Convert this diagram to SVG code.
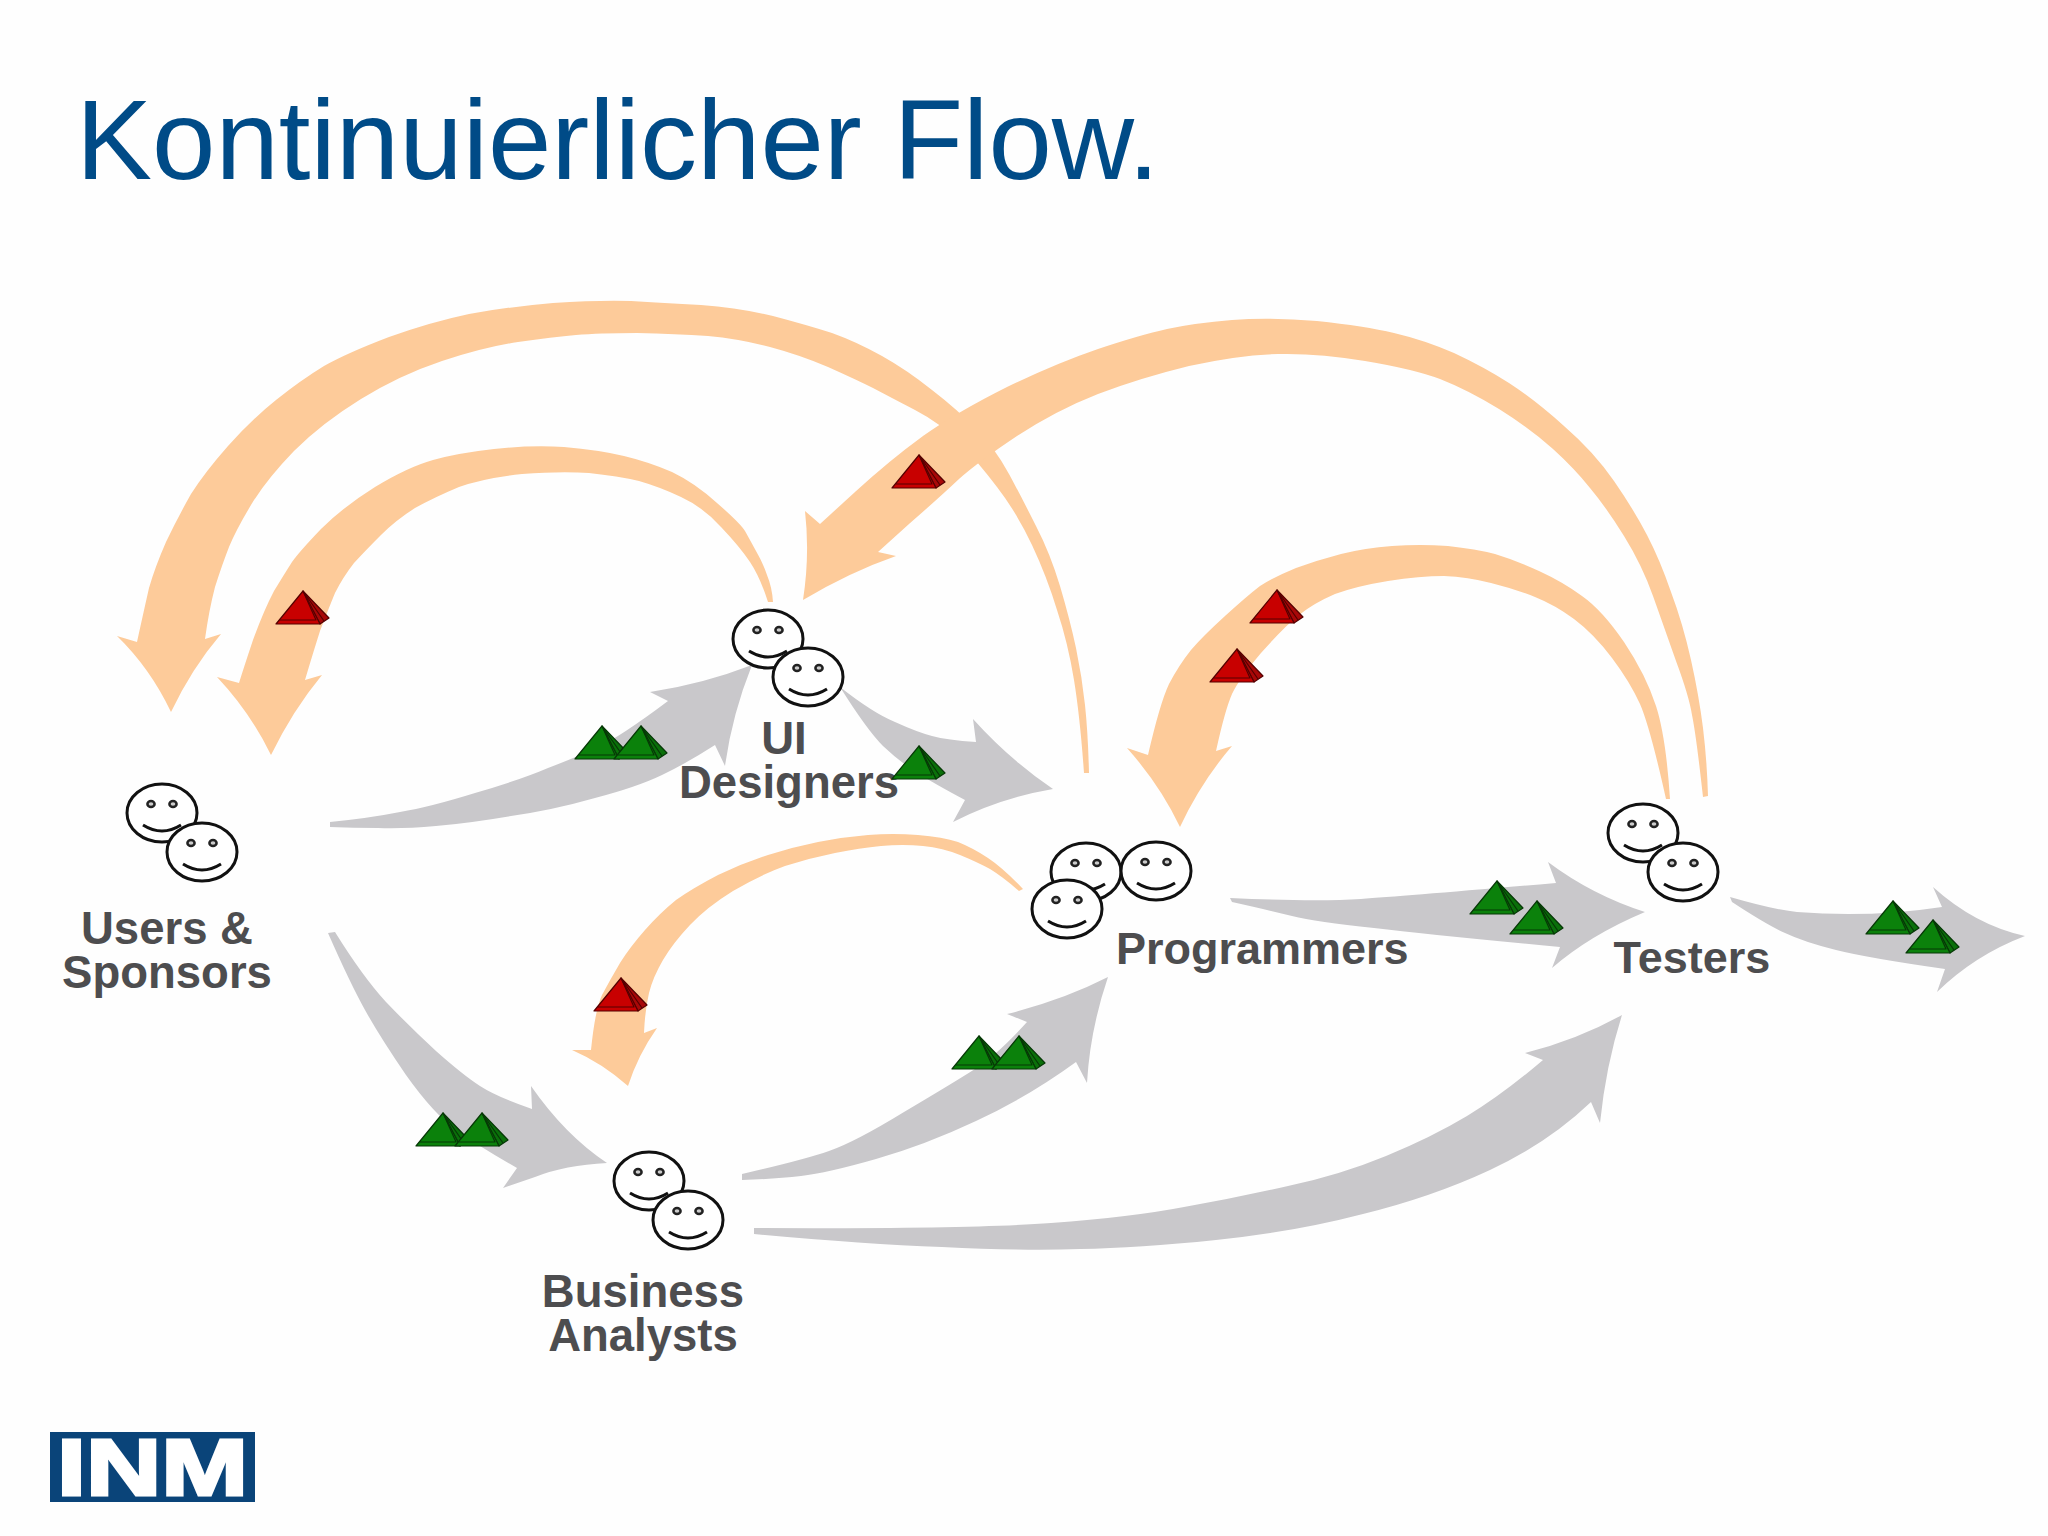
<svg xmlns="http://www.w3.org/2000/svg" width="2048" height="1536" viewBox="0 0 2048 1536">
<style>
.o{fill:#fdcb9a}
.g{fill:#c9c8cb}
.lb{font-family:"Liberation Sans",Arial,sans-serif;font-weight:bold;font-size:45.5px;fill:#4d4d4f;text-anchor:middle}
.f{fill:#fff;stroke:#111;stroke-width:3}
.e{fill:#ccc;stroke:#222;stroke-width:2.5}
.s{fill:none;stroke:#111;stroke-width:3}
</style>
<defs>
<g id="face"><ellipse class="f" rx="35" ry="29"/><ellipse class="e" cx="-11" cy="-9" rx="3.6" ry="3"/><ellipse class="e" cx="11" cy="-9" rx="3.6" ry="3"/><path class="s" d="M-19 12Q0 24 19 12"/></g>
<g id="pr" stroke="#500" stroke-width="1.2" stroke-linejoin="round"><path fill="#a80808" d="M0 0L26 27L17 33Z"/><path fill="#c80000" d="M0 0L-27 33H17Z"/><path fill="none" d="M0 0L13 29H-23M0 0L21 30"/></g>
<g id="pg" stroke="#063806" stroke-width="1.2" stroke-linejoin="round"><path fill="#0a700a" d="M0 0L26 27L17 33Z"/><path fill="#0b810b" d="M0 0L-27 33H17Z"/><path fill="none" d="M0 0L13 29H-23M0 0L21 30"/></g>
</defs>
<rect width="2048" height="1536" fill="#fefefe"/>
<text x="76" y="179" font-family="'Liberation Sans',Arial,sans-serif" font-size="114" fill="#004b87">Kontinuierlicher Flow.</text>
<g id="connectors">
<path class="o" d="M1089 773Q1088 733 1085 705Q1082 677 1076 648Q1070 620 1060 586Q1050 553 1036 526Q1023 500 1009 474Q995 448 976 429Q958 410 932 390Q907 370 882 356Q857 342 832 333Q807 325 773 316Q740 308 701 305Q663 303 631 301Q599 300 553 303Q507 307 469 314Q431 322 389 337Q347 353 324 366Q301 380 276 400Q251 420 228 446Q205 472 191 494Q178 517 166 542Q155 567 149 588Q144 610 137 642L117 636Q150 668 171 712Q192 668 221 634L205 639Q209 610 215 587Q222 565 229 547Q236 530 251 505Q266 480 294 451Q322 423 361 399Q400 375 442 361Q484 347 518 342Q553 337 576 335Q599 333 637 333Q676 334 708 336Q740 339 770 347Q800 355 828 367Q857 380 873 388Q890 397 915 410Q940 423 959 442Q978 462 997 487Q1017 513 1032 545Q1047 577 1057 610Q1068 643 1074 680Q1080 717 1084 773Z"/>
<path class="o" d="M773 602Q772 587 767 575Q763 563 756 551Q750 540 745 531Q740 523 717 503Q695 483 672 472Q649 462 624 456Q599 450 564 447Q530 445 494 449Q458 453 433 460Q408 467 375 487Q343 507 321 529Q299 552 292 562Q285 573 274 591Q264 610 253 640Q243 670 239 683L217 677Q250 712 271 755Q293 710 322 675L305 680Q313 653 320 631Q328 610 335 593Q343 577 354 563Q366 550 381 535Q396 520 415 508Q435 497 459 487Q484 478 522 474Q561 471 589 473Q618 476 639 481Q660 487 681 497Q703 507 721 527Q740 547 750 562Q760 577 768 602Z"/>
<path class="o" d="M1708 796Q1707 761 1703 728Q1699 696 1691 660Q1683 624 1671 592Q1660 560 1647 535Q1634 510 1614 481Q1594 452 1564 426Q1535 400 1509 383Q1484 367 1454 353Q1424 340 1394 333Q1365 326 1317 321Q1270 317 1232 320Q1195 323 1167 329Q1140 335 1098 349Q1057 363 1007 387Q957 412 923 436Q890 460 855 492L820 524L805 511Q810 555 803 600Q850 572 896 556L878 552L909 524Q940 497 959 479Q978 462 1017 436Q1057 410 1098 394Q1140 378 1189 366Q1239 355 1278 354Q1318 353 1365 361Q1413 369 1440 379Q1468 390 1499 409Q1531 429 1553 449Q1575 469 1590 488Q1606 507 1624 536Q1642 565 1653 596Q1664 627 1676 661Q1689 696 1692 715Q1696 734 1703 797Z"/>
<path class="o" d="M1670 799Q1666 737 1656 706Q1646 675 1624 642Q1602 610 1582 596Q1563 582 1539 571Q1515 560 1495 554Q1476 549 1448 546Q1420 544 1392 546Q1365 548 1341 554Q1318 560 1296 568Q1274 577 1260 586Q1247 596 1225 616Q1203 636 1191 650Q1179 665 1169 684Q1160 703 1148 755L1127 748Q1160 785 1180 827Q1201 782 1232 746L1216 751Q1225 710 1232 694Q1239 679 1261 653Q1284 627 1299 615Q1314 603 1335 594Q1357 586 1388 581Q1420 576 1444 576Q1468 577 1491 583Q1515 589 1535 597Q1555 605 1574 619Q1594 634 1612 658Q1630 682 1640 704Q1650 727 1666 799Z"/>
<path class="o" d="M1023 889Q1003 868 988 858Q973 848 958 842Q943 837 918 835Q893 833 868 835Q843 837 818 842Q793 847 768 855Q743 863 718 875Q693 888 676 900Q660 913 645 930Q630 947 620 963Q610 980 602 995Q595 1010 591 1050L572 1050Q602 1063 628 1086Q638 1055 657 1028L644 1033Q645 1010 649 993Q653 977 663 960Q673 943 690 925Q707 907 733 891Q760 875 785 866Q810 858 835 853Q860 848 881 846Q903 844 923 846Q943 848 960 855Q977 862 990 869Q1003 877 1019 891Z"/>
<path class="g" d="M330 822Q370 818 400 812Q430 807 475 793Q520 780 548 768Q577 757 598 747Q620 737 668 701L650 692Q703 684 752 665Q732 715 725 766L715 745Q687 763 662 775Q637 787 595 798Q553 810 511 816Q470 823 436 826Q403 829 378 828Q353 828 330 827Z"/>
<path class="g" d="M840 687Q873 713 895 722Q917 732 932 736Q947 740 976 742L973 719Q1010 760 1053 789Q1000 798 953 822L965 800Q933 783 916 772Q900 762 883 746Q867 730 840 687Z"/>
<path class="g" d="M335 932Q363 977 386 1002Q410 1027 436 1051Q463 1075 480 1086Q497 1097 532 1109L531 1086Q565 1135 607 1163Q565 1165 535 1177L503 1188L517 1168Q480 1147 456 1130Q433 1113 406 1075Q380 1037 365 1010Q350 983 328 933Z"/>
<path class="g" d="M742 1174Q803 1160 829 1151Q855 1142 904 1112Q953 1083 975 1069Q997 1055 1027 1022L1007 1014Q1063 1000 1108 977Q1090 1030 1087 1083L1076 1062Q1028 1097 976 1121Q925 1145 876 1159Q827 1173 801 1176Q775 1179 742 1180Z"/>
<path class="g" d="M754 1228Q971 1229 1051 1223Q1132 1217 1184 1207Q1236 1198 1288 1186Q1340 1175 1386 1156Q1432 1137 1467 1116Q1502 1095 1543 1060L1525 1053Q1577 1040 1622 1015Q1606 1065 1600 1123L1591 1102Q1548 1143 1490 1170Q1432 1197 1363 1214Q1294 1232 1216 1240Q1138 1248 1080 1249Q1023 1251 942 1247Q861 1244 754 1234Z"/>
<path class="g" d="M1230 898Q1316 902 1361 899Q1406 896 1556 883L1548 862Q1592 895 1645 912Q1590 935 1552 968L1560 947Q1432 935 1374 928Q1316 922 1292 916Q1268 910 1232 902Z"/>
<path class="g" d="M1730 897Q1775 910 1797 912Q1870 918 1942 907L1933 887Q1975 925 2025 936Q1975 955 1937 992L1945 969Q1868 958 1836 950Q1804 942 1785 933Q1767 925 1732 902Z"/>
</g>
<g id="node-users"><use href="#face" x="162" y="813"/><use href="#face" x="202" y="852"/><text class="lb" x="167" y="944">Users &amp;<tspan x="167" dy="44">Sponsors</tspan></text></g>
<g id="node-ui"><use href="#face" x="768" y="639"/><use href="#face" x="808" y="677"/><text class="lb" x="784" y="754">UI<tspan x="789" dy="44">Designers</tspan></text></g>
<g id="node-programmers"><use href="#face" x="1086" y="872"/><use href="#face" x="1156" y="871"/><use href="#face" x="1067" y="909"/><text class="lb" x="1116" y="964" style="text-anchor:start;font-size:45px">Programmers</text></g>
<g id="node-testers"><use href="#face" x="1643" y="833"/><use href="#face" x="1683" y="872"/><text class="lb" x="1692" y="973" style="font-size:45px">Testers</text></g>
<g id="node-ba"><use href="#face" x="649" y="1181"/><use href="#face" x="688" y="1220"/><text class="lb" x="643" y="1307">Business<tspan x="643" dy="44">Analysts</tspan></text></g>
<g id="tokens">
<use href="#pr" x="303" y="591"/><use href="#pr" x="919" y="455"/><use href="#pr" x="1277" y="590"/><use href="#pr" x="1237" y="649"/><use href="#pr" x="621" y="978"/>
<use href="#pg" x="602" y="726"/><use href="#pg" x="641" y="726"/><use href="#pg" x="919" y="746"/><use href="#pg" x="443" y="1113"/><use href="#pg" x="482" y="1113"/><use href="#pg" x="979" y="1036"/><use href="#pg" x="1019" y="1036"/><use href="#pg" x="1497" y="881"/><use href="#pg" x="1537" y="901"/><use href="#pg" x="1893" y="901"/><use href="#pg" x="1933" y="920"/>
</g>
<g id="logo"><rect x="50" y="1432" width="205" height="70" fill="#0a4479"/><text x="57" y="1495" font-family="'Liberation Sans',Arial,sans-serif" font-weight="bold" font-size="79" fill="#fff" stroke="#fff" stroke-width="3" textLength="191" lengthAdjust="spacingAndGlyphs">INM</text></g>
</svg>
